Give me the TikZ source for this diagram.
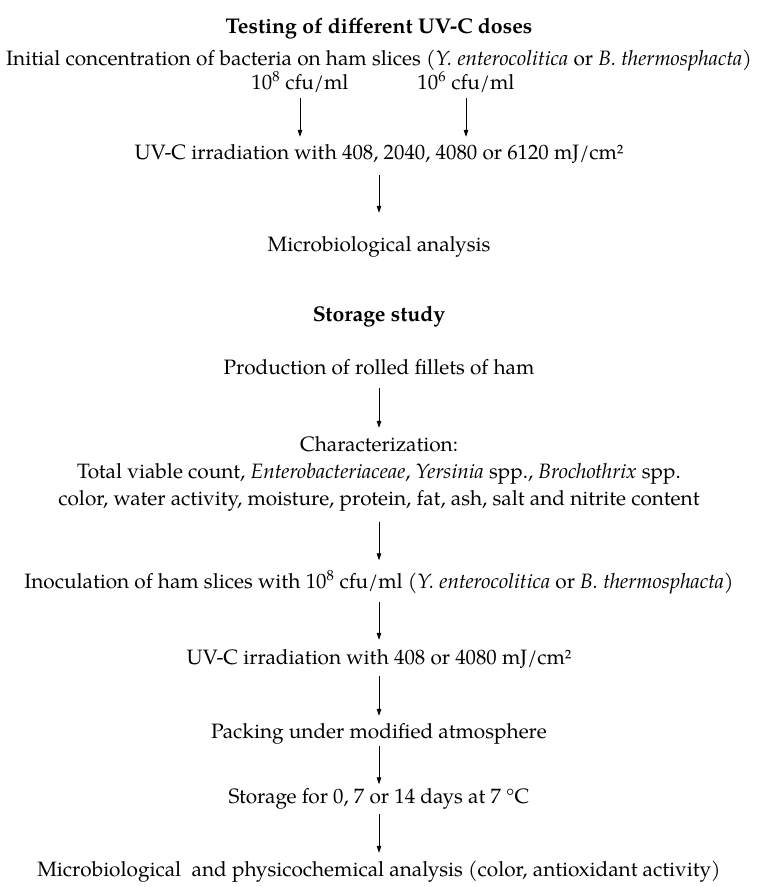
\documentclass[tikz,border=0pt]{standalone}
\usepackage{fontspec}
\setmainfont{TeX Gyre Pagella}
\usetikzlibrary{arrows.meta}
\begin{document}
\begin{tikzpicture}[x=1pt,y=1pt,
  txt/.style={inner sep=0pt, text height=15pt, text depth=5pt, font=\fontsize{20.8}{25}\selectfont},
  ttl/.style={inner sep=0pt, text height=15pt, text depth=5pt, font=\fontsize{21.3}{25}\selectfont\bfseries},
  arr/.style={-{Triangle[length=7pt,width=4.5pt]}, line width=0.8pt}]
\useasboundingbox (0,0) rectangle (757,-887);
% --- Testing of different UV-C doses ---
\node[ttl] (t1) at (379,-28) {Testing of different UV-C doses};
\node[txt] (init) at (379,-60) {Initial concentration of bacteria on ham slices (\textit{Y. enterocolitica} or \textit{B. thermosphacta})};
\node[txt] (c8) at (300,-84) {10\textsuperscript{8} cfu/ml};
\node[txt] (c6) at (466,-84) {10\textsuperscript{6} cfu/ml};
\node[txt] (uv1) at (379,-154) {UV-C irradiation with 408, 2040, 4080 or 6120 mJ/cm²};
\node[txt] (mic1) at (379,-246) {Microbiological analysis};
% --- Storage study ---
\node[ttl] (t2) at (379,-316) {Storage study};
\node[txt] (prod) at (379,-369) {Production of rolled fillets of ham};
\node[txt] (ch1) at (379,-446) {Characterization:};
\node[txt] (ch2) at (379,-473) {Total viable count, \textit{Enterobacteriaceae}, \textit{Yersinia} spp., \textit{Brochothrix} spp.};
\node[txt] (ch3) at (379,-500) {color, water activity, moisture, protein, fat, ash, salt and nitrite content};
\node[txt] (inoc) at (379,-583) {Inoculation of ham slices with 10\textsuperscript{8} cfu/ml (\textit{Y. enterocolitica} or \textit{B. thermosphacta})};
\node[txt] (uv2) at (379,-659) {UV-C irradiation with 408 or 4080 mJ/cm²};
\node[txt] (pack) at (379,-733) {Packing under modified atmosphere};
\node[txt] (stor) at (379,-798) {Storage for 0, 7 or 14 days at 7 °C};
\node[txt] (fin) at (379,-871) {Microbiological\ \ and physicochemical analysis (color, antioxidant activity)};
% --- arrows ---
\draw[arr, shorten <=4pt, shorten >=7pt] (c8.south) -- (c8.south |- uv1.north);
\draw[arr, shorten <=4pt, shorten >=7pt] (c6.south) -- (c6.south |- uv1.north);
\draw[arr, shorten <=11pt, shorten >=23pt] (uv1) -- (mic1);
\draw[arr, shorten <=9pt, shorten >=8pt] (prod) -- (ch1);
\draw[arr, shorten <=11.5pt, shorten >=12.5pt] (ch3) -- (inoc);
\draw[arr, shorten <=9pt, shorten >=9pt] (inoc) -- (uv2);
\draw[arr, shorten <=7pt, shorten >=7pt] (uv2) -- (pack);
\draw[arr, shorten <=3pt, shorten >=3.5pt] (pack) -- (stor);
\draw[arr, shorten <=6pt, shorten >=8pt] (stor) -- (fin);
\end{tikzpicture}
\end{document}
